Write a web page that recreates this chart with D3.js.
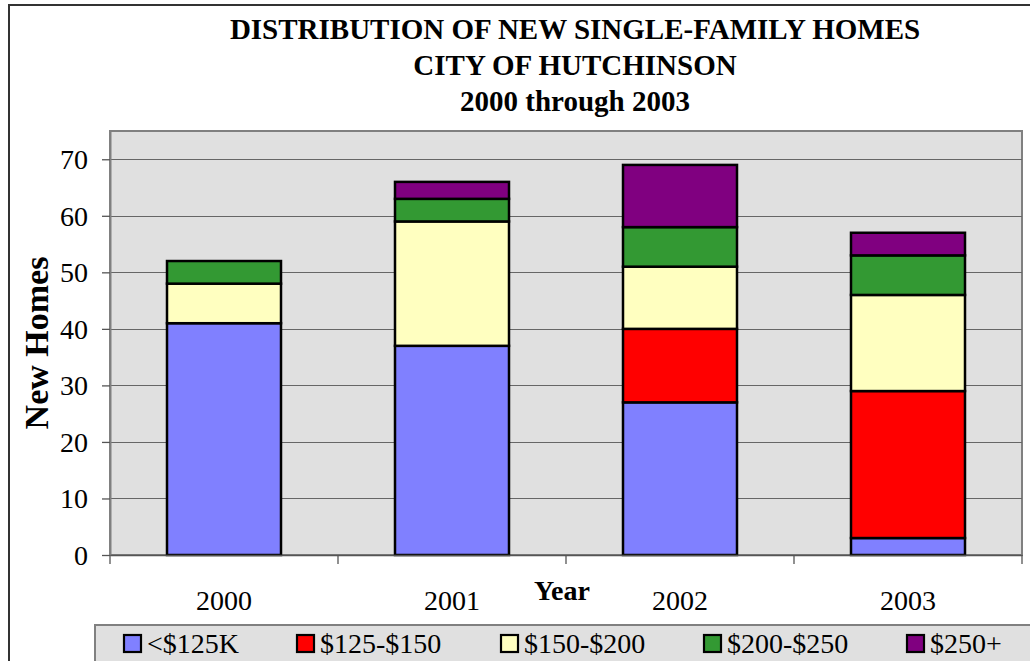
<!DOCTYPE html>
<html><head><meta charset="utf-8">
<script src="https://cdn.jsdelivr.net/npm/d3@7"></script>
<style>body{margin:0;background:#fff}svg{display:block}text{font-family:"Liberation Serif","Times New Roman",serif;fill:#000}</style>
</head><body><svg id="c" width="1030" height="661"></svg>
<script>
const years = ["2000","2001","2002","2003"];
const seriesNames = ["<$125K","$125-$150","$150-$200","$200-$250","$250+"];
const seriesColors = ["#8080ff","#ff0000","#ffffc0","#339933","#800080"];
const under125 = [41,37,27,3];
const from125to150 = [0,0,13,26];
const from150to200 = [7,22,11,17];
const from200to250 = [4,4,7,7];
const over250 = [0,3,11,4];
const yTicks = [0,10,20,30,40,50,60,70];
const titleLines = ["DISTRIBUTION OF NEW SINGLE-FAMILY HOMES","CITY OF HUTCHINSON","2000 through 2003"];

const seriesValues = [under125,from125to150,from150to200,from200to250,over250];
const rows = years.map((y,i)=>{const r={year:y};seriesNames.forEach((s,k)=>r[s]=seriesValues[k][i]);return r;});
const stack = d3.stack().keys(seriesNames)(rows);

const svg = d3.select("#c");
const L=110,R=1022,T=131,B=555;
const x = d3.scaleBand().domain(years).range([L,R]).paddingInner(0.5).paddingOuter(0.25);
const xb = d3.scaleBand().domain(years).range([L,R]);
const y = d3.scaleLinear().domain([0,75]).range([B,T]);

// outer border
svg.append("path").attr("d",`M9,670 V5 H1040`).attr("fill","none").attr("stroke","#333").attr("stroke-width",2);

// plot area
svg.append("rect").attr("x",L).attr("y",T).attr("width",R-L).attr("height",B-T).attr("fill","#e0e0e0").attr("stroke","#808080").attr("stroke-width",2);

// gridlines
svg.append("g").selectAll("line").data(yTicks.filter(d=>d>0)).join("line")
  .attr("x1",L).attr("x2",R).attr("y1",d=>Math.round(y(d))+0.5).attr("y2",d=>Math.round(y(d))+0.5)
  .attr("stroke","#666").attr("stroke-width",1.2);

// bars
svg.append("g").selectAll("g").data(stack).join("g").attr("fill",(d,i)=>seriesColors[i])
  .selectAll("rect").data(d=>d.filter(p=>p[1]-p[0]>0)).join("rect")
  .attr("x",d=>x(d.data.year)).attr("width",x.bandwidth())
  .attr("y",d=>y(d[1])).attr("height",d=>y(d[0])-y(d[1]))
  .attr("stroke","#000").attr("stroke-width",2.5);

// y axis
const ya = d3.axisLeft(y).tickValues(yTicks).tickSize(8).tickPadding(14).tickSizeOuter(0);
const gy = svg.append("g").attr("transform",`translate(${L},0)`).call(ya);
gy.select(".domain").attr("stroke","#808080").attr("stroke-width",2);
gy.selectAll(".tick line").attr("stroke","#555").attr("stroke-width",1.3);
gy.selectAll("text").style("font-size","28px").attr("fill","#000").attr("dy","0.34em");

// x axis
const xa = d3.axisBottom(xb).tickSize(0).tickSizeOuter(0).tickPadding(40);
const gx = svg.append("g").attr("transform",`translate(0,${B})`).call(xa);
gx.select(".domain").attr("stroke","#555").attr("stroke-width",1.5);
gx.selectAll("text").style("font-size","28px").attr("fill","#000").attr("dy","0.53em");
svg.append("g").selectAll("line").data(years.concat(["end"])).join("line")
  .attr("x1",(d,i)=>i<years.length?xb(d):R).attr("x2",(d,i)=>i<years.length?xb(d):R)
  .attr("y1",B).attr("y2",B+9).attr("stroke","#555").attr("stroke-width",1.3);

// titles
svg.append("g").selectAll("text").data(titleLines).join("text")
  .attr("x",575).attr("y",(d,i)=>39+i*36).attr("text-anchor","middle")
  .style("font-size","29px").style("font-weight","bold").text(d=>d);

svg.append("text").attr("transform","translate(48,343) rotate(-90)").attr("text-anchor","middle")
  .style("font-size","34px").style("font-weight","bold").text("New Homes");
svg.append("text").attr("x",562).attr("y",600).attr("text-anchor","middle")
  .style("font-size","28px").style("font-weight","bold").text("Year");

// legend
svg.append("rect").attr("x",95).attr("y",625).attr("width",960).attr("height",60)
  .attr("fill","#e0e0e0").attr("stroke","#808080").attr("stroke-width",2);
const legX = [123,296,500,703,906];
const lg = svg.append("g").selectAll("g").data(seriesNames).join("g")
  .attr("transform",(d,i)=>`translate(${legX[i]},635)`);
lg.append("rect").attr("x",1).attr("y",0).attr("width",17).attr("height",17)
  .attr("fill",(d,i)=>seriesColors[i]).attr("stroke","#000").attr("stroke-width",2.2);
lg.append("text").attr("x",24).attr("y",18).style("font-size","28px").text(d=>d);
</script></body></html>
